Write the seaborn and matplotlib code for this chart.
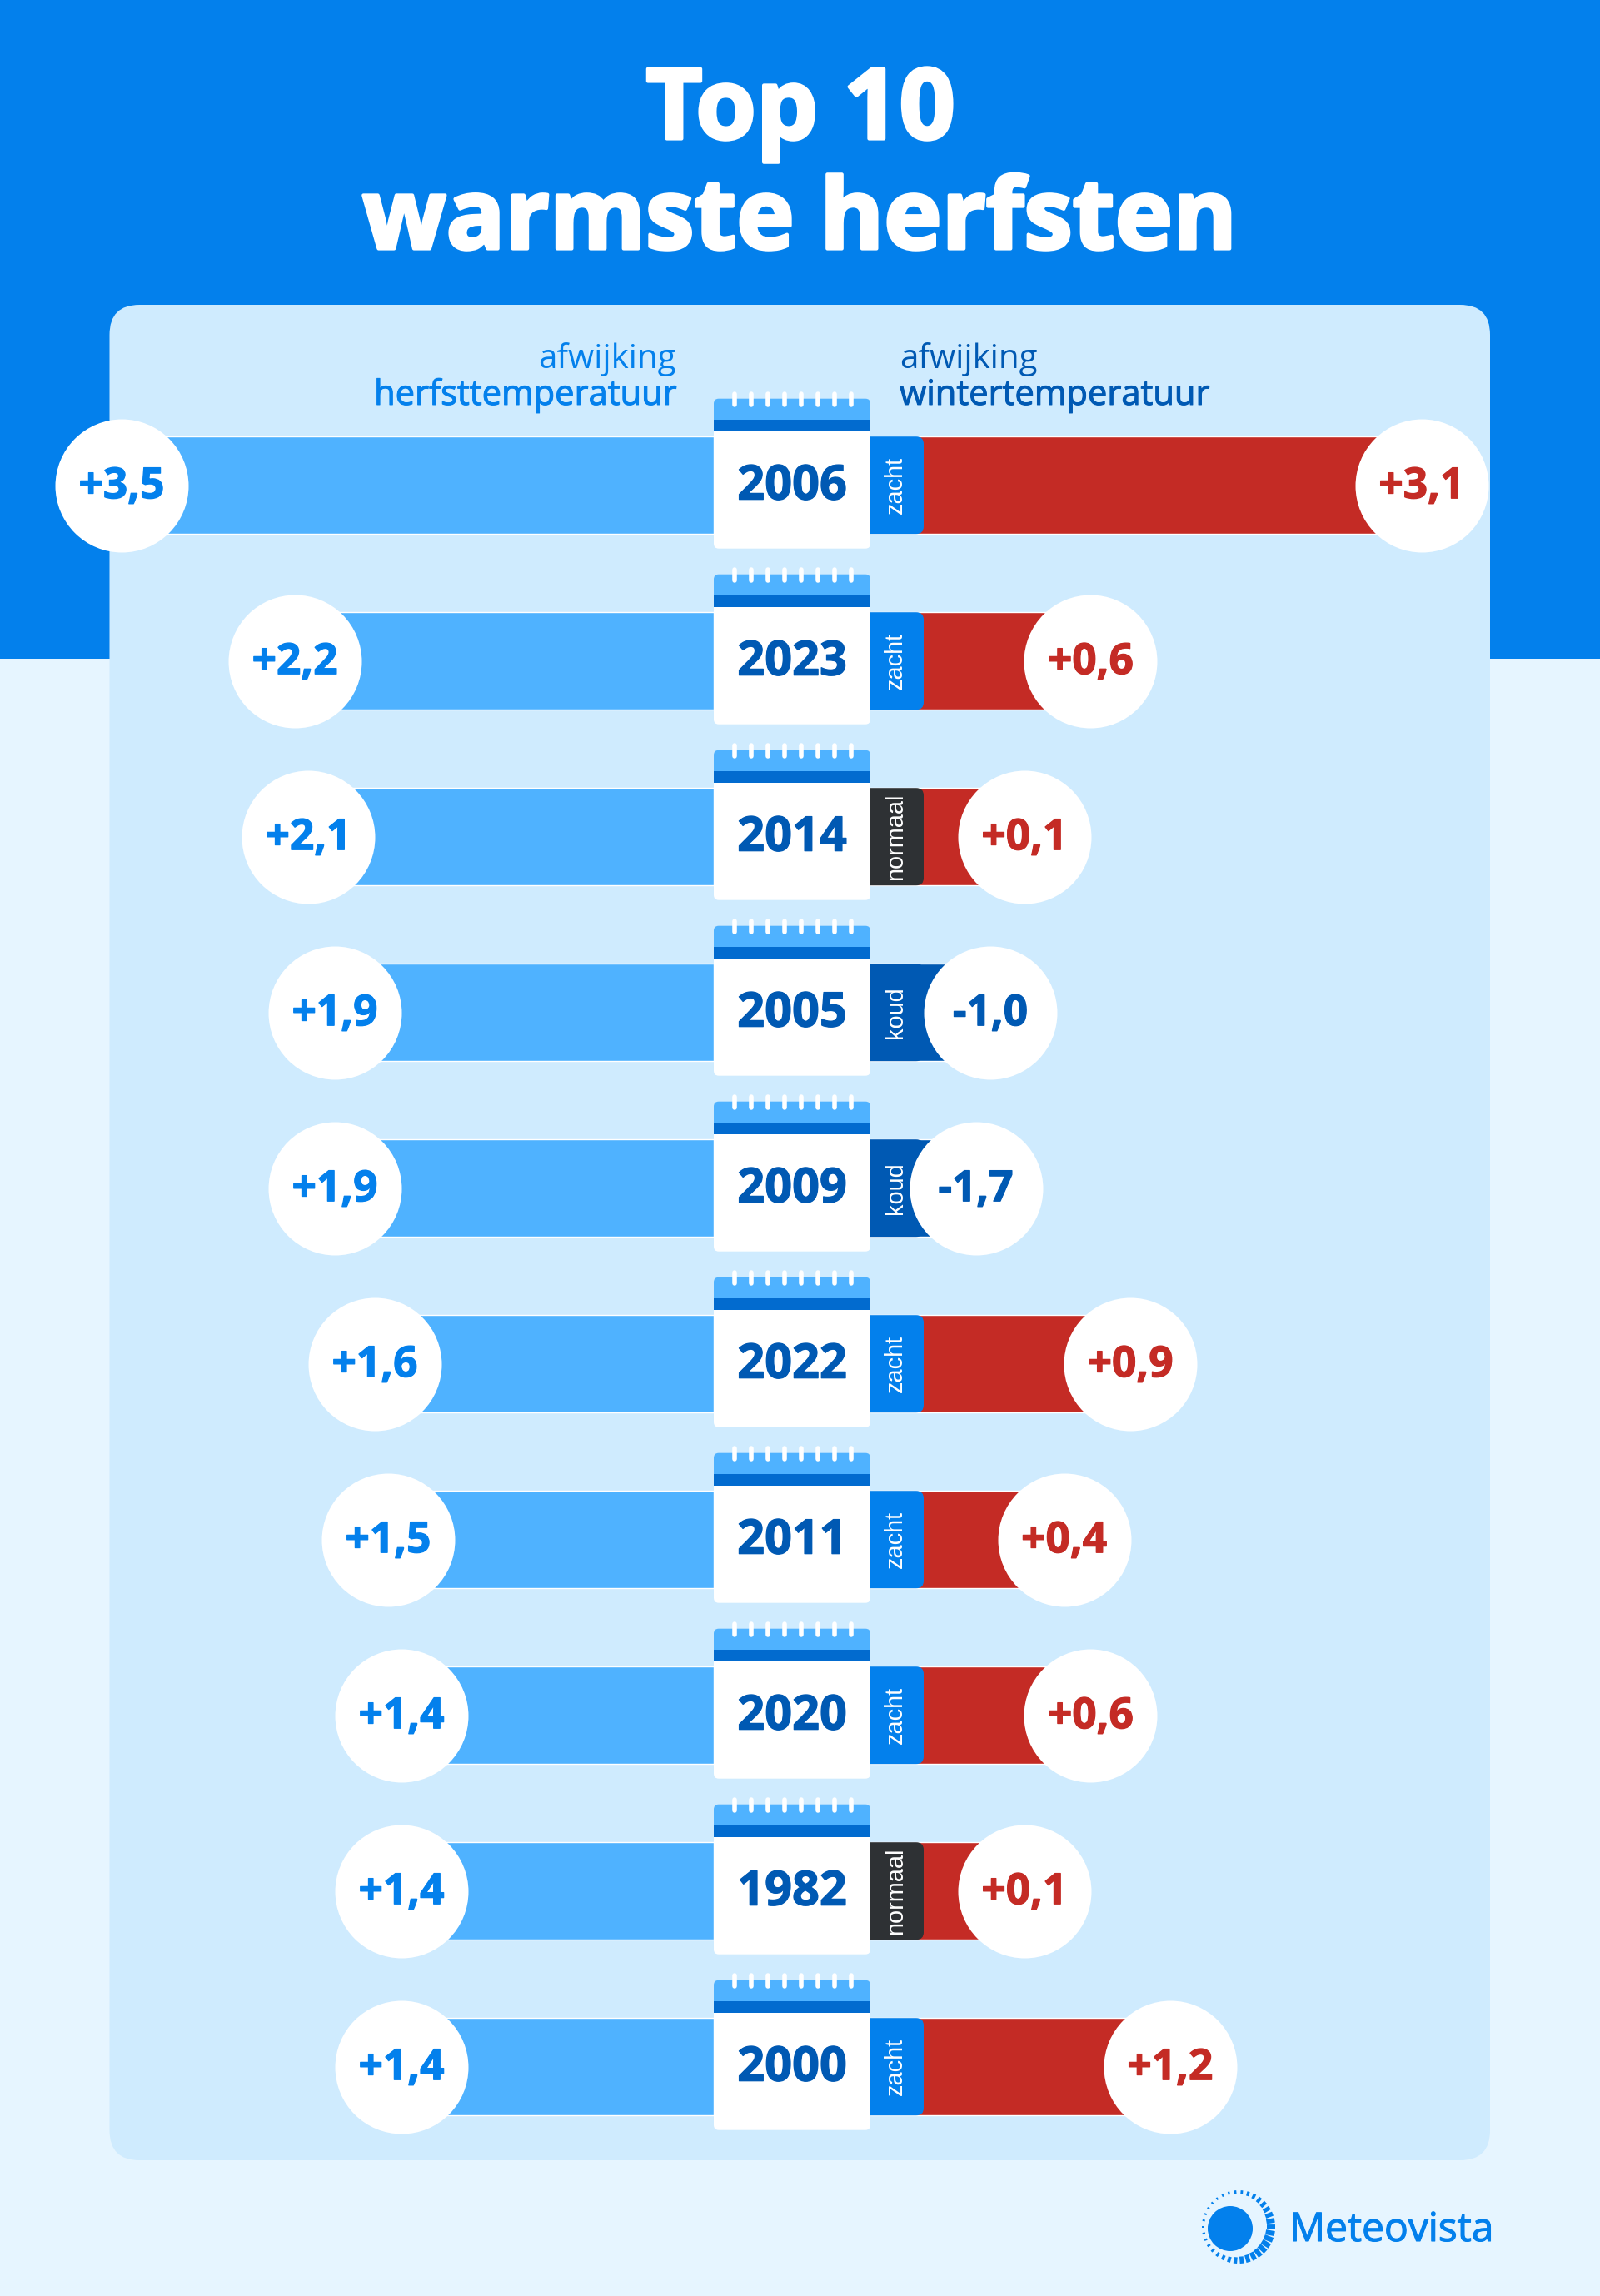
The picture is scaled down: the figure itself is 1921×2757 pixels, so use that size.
import numpy as np
import pandas as pd
import matplotlib
matplotlib.use("Agg")
import matplotlib.pyplot as plt
from matplotlib.patches import FancyBboxPatch, Rectangle, Circle
from matplotlib.patheffects import withStroke
import seaborn as sns

# Data: deviations from normal in degrees C
years = ["2006", "2023", "2014", "2005", "2009", "2022", "2011", "2020", "1982", "2000"]
autumn_dev = [3.5, 2.2, 2.1, 1.9, 1.9, 1.6, 1.5, 1.4, 1.4, 1.4]
winter_dev = [3.1, 0.6, 0.1, -1.0, -1.7, 0.9, 0.4, 0.6, 0.1, 1.2]
winter_type = ["zacht", "zacht", "normaal", "koud", "koud", "zacht", "zacht", "zacht", "normaal", "zacht"]

BLUE = "#0380EC"
SKY = "#4FB2FF"
NAVY = "#0059B3"
BAND = "#026BCF"
RED = "#C42B25"
DARK = "#2E3134"
PANEL = "#CFEBFE"
PALE = "#E6F5FF"

tag_colors = {"zacht": BLUE, "normaal": DARK, "koud": NAVY}

W, H = 1921, 2757
ROW0, PITCH = 582.7, 211.0
CARD_L, CARD_R = 857, 1045
BAR_FRACTION = 117 / PITCH
CIRCLE_S = (160 * 0.72) ** 2


def fmt(v):
    return f"{v:+.1f}".replace(".", ",")


def thick(width, color):
    return [withStroke(linewidth=width, foreground=color)]


sns.set_theme(style="white")
plt.rcParams["font.family"] = ["Open Sans", "DejaVu Sans"]

fig = plt.figure(figsize=(W / 100, H / 100), dpi=100, facecolor=PALE)

# Background layer in figure pixels
bg = fig.add_axes([0, 0, 1, 1], zorder=0)
bg.set_xlim(0, W)
bg.set_ylim(H, 0)
bg.axis("off")
bg.add_patch(Rectangle((0, 0), W, 791, fc=BLUE, ec="none"))
bg.add_patch(FancyBboxPatch((131.5, 366), 1657.5, 2228, boxstyle="round,pad=0,rounding_size=36",
                            fc=PANEL, ec="none"))
bg.text(961, 136, "Top 10", color="white", ha="center", va="center", fontsize=84.5, fontweight="bold",
        path_effects=thick(3, "white"))
bg.text(960, 268, "warmste herfsten", color="white", ha="center", va="center", fontsize=84.5, fontweight="bold",
        path_effects=thick(3, "white"))
bg.text(812, 431, "afwijking", color=BLUE, ha="right", va="center", fontsize=29)
bg.text(812, 475, "herfsttemperatuur", color=BLUE, ha="right", va="center", fontsize=30,
        path_effects=thick(0.7, BLUE))
bg.text(1080, 431, "afwijking", color=NAVY, ha="left", va="center", fontsize=29)
bg.text(1080, 475, "wintertemperatuur", color=NAVY, ha="left", va="center", fontsize=30,
        path_effects=thick(0.7, NAVY))

rows = np.arange(len(years))
row_limits = ((H - ROW0) / PITCH, -ROW0 / PITCH)

# Autumn bars run leftwards from the calendar; value 0 sits 706 px from the left edge
LEFT_SLOPE, LEFT_ZERO = 160.0, 706.0
ax_l = fig.add_axes([0, 0, CARD_L / W, 1], zorder=1)
df_l = pd.DataFrame({"row": rows, "dev": autumn_dev})
sns.barplot(data=df_l, x="dev", y="row", orient="y", native_scale=True, color=SKY, saturation=1,
            width=BAR_FRACTION, errorbar=None, ax=ax_l, zorder=1)
left_base = (LEFT_ZERO - CARD_L) / LEFT_SLOPE
for bar in ax_l.patches:
    value = bar.get_width()
    bar.set_x(left_base)
    bar.set_width(value - left_base)
sns.scatterplot(data=df_l, x="dev", y="row", s=CIRCLE_S, color="white", linewidth=0, legend=False,
                ax=ax_l, zorder=3, clip_on=False)
ax_l.set_xlim(LEFT_ZERO / LEFT_SLOPE, left_base)
ax_l.set_ylim(*row_limits)
ax_l.axis("off")
for r, v in zip(rows, autumn_dev):
    ax_l.text(v, r + 0.012, fmt(v), color=BLUE, ha="center", va="center", fontsize=37, fontweight="bold",
              zorder=4, path_effects=thick(0.9, BLUE))

# Winter axis: the negative side is compressed so cold bars stay beside the calendar
POS_SLOPE, NEG_SLOPE, RIGHT_ZERO = 159.0, 25.0, 1214.0


def to_px(v):
    v = np.asarray(v, dtype=float)
    return np.where(v < 0, NEG_SLOPE * v, POS_SLOPE * v)


def from_px(d):
    d = np.asarray(d, dtype=float)
    return np.where(d < 0, d / NEG_SLOPE, d / POS_SLOPE)


ax_r = fig.add_axes([CARD_R / W, 0, (W - CARD_R) / W, 1], zorder=1)
df_r = pd.DataFrame({"row": rows, "dev": winter_dev, "type": winter_type})
df_r["fill"] = df_r["type"].map(lambda t: "koud" if t == "koud" else "warm")
sns.barplot(data=df_r, x="dev", y="row", orient="y", native_scale=True, hue="fill",
            palette={"warm": RED, "koud": NAVY}, saturation=1, dodge=False, legend=False,
            width=BAR_FRACTION, errorbar=None, ax=ax_r, zorder=1)
right_base = float(from_px(CARD_R - RIGHT_ZERO))
for bar in ax_r.patches:
    value = bar.get_width()
    bar.set_x(right_base)
    bar.set_width(value - right_base)
sns.scatterplot(data=df_r, x="dev", y="row", s=CIRCLE_S, color="white", linewidth=0, legend=False,
                ax=ax_r, zorder=3, clip_on=False)
ax_r.set_xscale("function", functions=(to_px, from_px))
ax_r.set_xlim(right_base, float(from_px(W - RIGHT_ZERO)))
ax_r.set_ylim(*row_limits)
ax_r.axis("off")
for r, v, t in zip(rows, winter_dev, winter_type):
    col = NAVY if t == "koud" else RED
    ax_r.text(v, r + 0.012, fmt(v), color=col, ha="center", va="center", fontsize=37, fontweight="bold",
              zorder=4, path_effects=thick(0.9, col))

# Winter-type tags sit over the bars but under the value circles
for i, t in enumerate(winter_type):
    cy = ROW0 + i * PITCH
    ax_r.add_patch(FancyBboxPatch((1020, cy - 58.5), 89, 117, boxstyle="round,pad=0,rounding_size=9",
                                  fc=tag_colors[t], ec="none", transform=bg.transData, zorder=2))
    ax_r.text(1075, cy, t, color="white", rotation=90, ha="center", va="center", fontsize=20.8,
              family=["Liberation Sans"], transform=bg.transData, zorder=2.5)

# Calendar cards on the top layer
fg = fig.add_axes([0, 0, 1, 1], zorder=2)
fg.set_xlim(0, W)
fg.set_ylim(H, 0)
fg.axis("off")
fg.patch.set_alpha(0)
for i, year in enumerate(years):
    cy = ROW0 + i * PITCH
    fg.add_patch(FancyBboxPatch((CARD_L, cy - 104), CARD_R - CARD_L, 40, boxstyle="round,pad=0,rounding_size=6",
                                fc=SKY, ec="none"))
    fg.add_patch(FancyBboxPatch((CARD_L, cy - 75), CARD_R - CARD_L, 151, boxstyle="round,pad=0,rounding_size=6",
                                fc="white", ec="none"))
    fg.add_patch(Rectangle((CARD_L, cy - 79), CARD_R - CARD_L, 14, fc=BAND, ec="none"))
    fg.add_patch(Rectangle((CARD_L, cy - 90), CARD_R - CARD_L, 11, fc=SKY, ec="none"))
    for px in np.arange(882, 1023, 20):
        fg.plot([px, px], [cy - 110, cy - 97], color="white", lw=4, solid_capstyle="round")
    fg.text(951, cy + 2, year, color=NAVY, ha="center", va="center", fontsize=41.5, fontweight="bold",
            path_effects=thick(0.9, NAVY))

# Logo: solid sun inside an off-centre ring of dashes that grow towards the lower right
fg.add_patch(Circle((1477, 2676), 27, fc=BLUE, ec="none"))
rx, ry, outer = 1487, 2674, 44
n_dashes = 34
for k in range(n_dashes):
    a = np.deg2rad(k * 360 / n_dashes)
    grow = ((1 + np.cos(a - np.deg2rad(25))) / 2) ** 1.4
    inner = outer - (3 + 8 * grow)
    fg.plot([rx + inner * np.cos(a), rx + outer * np.cos(a)], [ry + inner * np.sin(a), ry + outer * np.sin(a)],
            color=BLUE, lw=1.4 + 3.0 * grow, solid_capstyle="butt")
fg.text(1548, 2691, "Meteovista", color=BLUE, ha="left", va="baseline", fontsize=34.5,
        path_effects=thick(0.8, BLUE))

fig.savefig("out.png", dpi=100, facecolor=PALE)
